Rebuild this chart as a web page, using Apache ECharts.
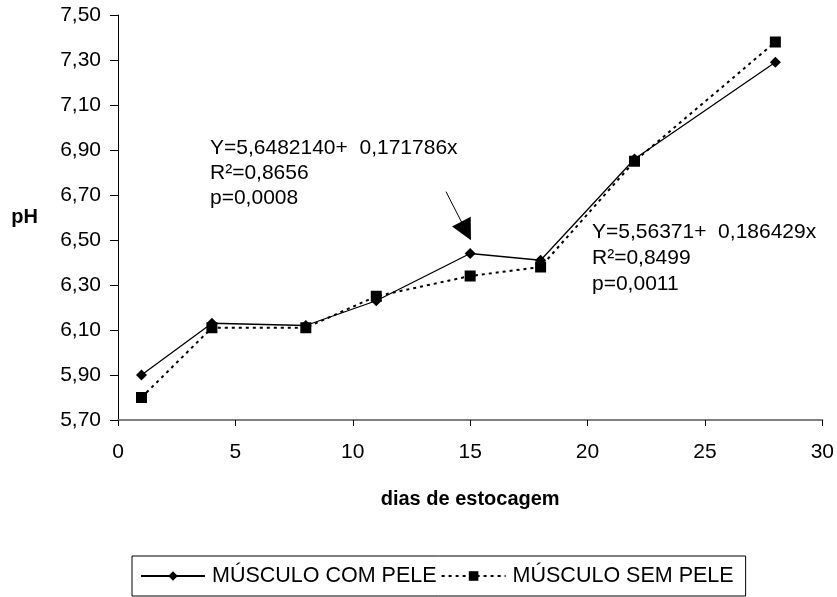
<!DOCTYPE html>
<html>
<head>
    <meta charset="utf-8">
    <title>pH</title>
    <script src="https://cdn.jsdelivr.net/npm/echarts@6/dist/echarts.min.js"></script>
    <style>
        html, body { margin: 0; padding: 0; background: #fff; }
        #main { width: 837px; height: 597px; }
    </style>
</head>
<body>
<div id="main"></div>
<script type="text/javascript">
    // dados
    var dias = [1, 4, 8, 11, 15, 18, 22, 28];
    var comPele = [5.90, 6.13, 6.12, 6.23, 6.44, 6.41, 6.86, 7.29];
    var semPele = [5.80, 6.11, 6.11, 6.25, 6.34, 6.38, 6.85, 7.38];
    var nomes = ['MÚSCULO COM PELE', 'MÚSCULO SEM PELE'];
    var eq1 = ['Y=5,6482140+  0,171786x', 'R²=0,8656', 'p=0,0008'];
    var eq2 = ['Y=5,56371+  0,186429x', 'R²=0,8499', 'p=0,0011'];

    function pares(xs, ys) {
        return xs.map(function (x, i) { return [x, ys[i]]; });
    }

    var fonte = '"Liberation Sans", Arial, sans-serif';

    var chart = echarts.init(document.getElementById('main'));

    var option = {
        backgroundColor: '#fff',
        animation: false,
        textStyle: { fontFamily: fonte, color: '#000' },
        grid: { left: 118, right: 13, top: 15, bottom: 177 },
        xAxis: {
            type: 'value',
            min: 0, max: 30, interval: 5,
            name: 'dias de estocagem',
            nameLocation: 'middle',
            nameGap: 69,
            nameTextStyle: { fontFamily: fonte, fontSize: 20, fontWeight: 'bold', color: '#000' },
            axisLine: { lineStyle: { color: '#808080', width: 2 } },
            axisTick: { show: true, length: 6, lineStyle: { color: '#000' } },
            axisLabel: { margin: 22, fontSize: 21, color: '#000', fontFamily: fonte },
            splitLine: { show: false }
        },
        yAxis: {
            type: 'value',
            min: 5.7, max: 7.5, interval: 0.2,
            name: 'pH',
            nameLocation: 'middle',
            nameRotate: 0,
            nameGap: 80,
            nameTextStyle: { fontFamily: fonte, fontSize: 20, fontWeight: 'bold', color: '#000' },
            axisLine: { show: true, lineStyle: { color: '#000', width: 1 } },
            axisTick: { show: true, length: 8, lineStyle: { color: '#000' } },
            axisLabel: {
                margin: 17, fontSize: 21, color: '#000', fontFamily: fonte,
                formatter: function (v) { return v.toFixed(2).replace('.', ','); }
            },
            splitLine: { show: false }
        },
        legend: {
            left: 132, top: 556,
            data: nomes,
            itemWidth: 64, itemHeight: 12, itemGap: 4,
            padding: [9, 12, 9, 8],
            borderColor: '#000', borderWidth: 1,
            textStyle: { fontFamily: fonte, fontSize: 21.5, color: '#000', padding: [0, 0, 0, 2] }
        },
        series: [
            {
                name: nomes[0],
                type: 'line',
                data: pares(dias, comPele),
                symbol: 'diamond',
                symbolSize: 11,
                itemStyle: { color: '#000' },
                lineStyle: { color: '#000', width: 1.3, type: 'solid' },
                markLine: {
                    silent: true,
                    symbol: ['none', 'triangle'],
                    symbolSize: [21, 21],
                    label: { show: false },
                    lineStyle: { color: '#000', width: 1, type: 'solid' },
                    data: [[{ coord: [13.97, 6.715] }, { coord: [14.83, 6.54] }]]
                }
            },
            {
                name: nomes[1],
                type: 'line',
                data: pares(dias, semPele),
                symbol: 'rect',
                symbolSize: 11,
                itemStyle: { color: '#000' },
                lineStyle: { color: '#000', width: 2, type: [3, 4] }
            }
        ],
        graphic: [
            {
                type: 'text', left: 210, top: 136,
                style: { text: eq1.join('\n'), font: '21px ' + fonte, fill: '#000', lineHeight: 25 }
            },
            {
                type: 'text', left: 592, top: 219,
                style: { text: eq2.join('\n'), font: '21px ' + fonte, fill: '#000', lineHeight: 26 }
            }
        ]
    };

    chart.setOption(option);
</script>
</body>
</html>
